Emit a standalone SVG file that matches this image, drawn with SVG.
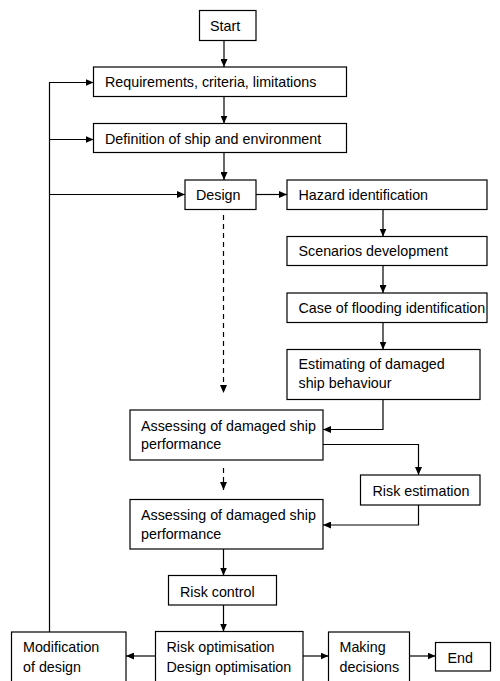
<svg xmlns="http://www.w3.org/2000/svg" width="500" height="681" viewBox="0 0 500 681">
<defs>
<marker id="ah" markerWidth="8" markerHeight="7" refX="8" refY="3.5" orient="auto" markerUnits="userSpaceOnUse">
<path d="M0,0 L8,3.5 L0,7 z" fill="#000"/>
</marker>
</defs>
<style>
rect{fill:#fff;stroke:#000;stroke-width:1.2}
text{font-family:"Liberation Sans",Arial,sans-serif;font-size:14.3px;fill:#000}
.c{fill:none;stroke:#000;stroke-width:1.2}
.d{stroke-dasharray:5,4}
</style>
<rect x="0" y="0" width="500" height="681" style="stroke:none"/>
<g id="connectors">
<path class="c" d="M224,40.5 V67" marker-end="url(#ah)"/>
<path class="c" d="M224,96.5 V123.5" marker-end="url(#ah)"/>
<path class="c" d="M224,152.5 V180" marker-end="url(#ah)"/>
<path class="c" d="M256,194.5 H287" marker-end="url(#ah)"/>
<path class="c" d="M383,209.5 V236.5" marker-end="url(#ah)"/>
<path class="c" d="M383,265.5 V293" marker-end="url(#ah)"/>
<path class="c" d="M383,322.5 V349.5" marker-end="url(#ah)"/>
<path class="c d" d="M223.5,215 V393" marker-end="url(#ah)"/>
<path class="c" d="M383,399.5 V429.5 H323" marker-end="url(#ah)"/>
<path class="c" d="M323,444.5 H418.5 V475" marker-end="url(#ah)"/>
<path class="c d" d="M223.5,468 V490" marker-end="url(#ah)"/>
<path class="c" d="M418.5,505 V525 H323" marker-end="url(#ah)"/>
<path class="c" d="M223.5,549 V575.5" marker-end="url(#ah)"/>
<path class="c" d="M223.5,605 V631.5" marker-end="url(#ah)"/>
<path class="c" d="M155.5,656 H126" marker-end="url(#ah)"/>
<path class="c" d="M303,656 H328.5" marker-end="url(#ah)"/>
<path class="c" d="M409.5,656 H435.5" marker-end="url(#ah)"/>
<path class="c" d="M49.5,632 V82.5 H93.5" marker-end="url(#ah)"/>
<path class="c" d="M49.5,139.5 H93.5" marker-end="url(#ah)"/>
<path class="c" d="M49.5,194.5 H185" marker-end="url(#ah)"/>
</g>
<g id="start"><rect x="199.5" y="10.5" width="56.5" height="30"/><text x="210" y="31">Start</text></g>
<g id="requirements"><rect x="93.5" y="67" width="253" height="29.5"/><text x="105" y="87">Requirements, criteria, limitations</text></g>
<g id="definition"><rect x="93.5" y="123.5" width="253" height="29"/><text x="105" y="143.5">Definition of ship and environment</text></g>
<g id="design"><rect x="185" y="180" width="71" height="29.5"/><text x="196" y="200">Design</text></g>
<g id="hazard"><rect x="287" y="180" width="200" height="29.5"/><text x="298.5" y="200">Hazard identification</text></g>
<g id="scenarios"><rect x="287" y="236.5" width="200" height="29"/><text x="298.5" y="256">Scenarios development</text></g>
<g id="flooding"><rect x="287" y="293" width="200" height="29.5"/><text x="298.5" y="312.5">Case of flooding identification</text></g>
<g id="estimating"><rect x="287" y="349.5" width="193" height="50"/><text x="298.5" y="368.5">Estimating of damaged</text><text x="298.5" y="387.5">ship behaviour</text></g>
<g id="assessing1"><rect x="130" y="410" width="193" height="50"/><text x="141" y="430.5">Assessing of damaged ship</text><text x="141" y="449">performance</text></g>
<g id="riskestimation"><rect x="360.5" y="475" width="119.5" height="30"/><text x="372.5" y="495.5">Risk estimation</text></g>
<g id="assessing2"><rect x="130" y="499.5" width="193" height="49.5"/><text x="141" y="519.5">Assessing of damaged ship</text><text x="141" y="538.5">performance</text></g>
<g id="riskcontrol"><rect x="168.5" y="575.5" width="108" height="29.5"/><text x="180" y="596.5">Risk control</text></g>
<g id="optimisation"><rect x="155.5" y="631.5" width="147.5" height="55"/><text x="166.5" y="652">Risk optimisation</text><text x="166.5" y="671.5">Design optimisation</text></g>
<g id="modification"><rect x="11.5" y="632" width="114.5" height="55"/><text x="23" y="652">Modification</text><text x="23" y="671.5">of design</text></g>
<g id="decisions"><rect x="328.5" y="632" width="81" height="55"/><text x="339.5" y="652">Making</text><text x="339.5" y="671.5">decisions</text></g>
<g id="end"><rect x="435.5" y="642.5" width="55" height="28.5"/><text x="447.5" y="663">End</text></g>
</svg>
